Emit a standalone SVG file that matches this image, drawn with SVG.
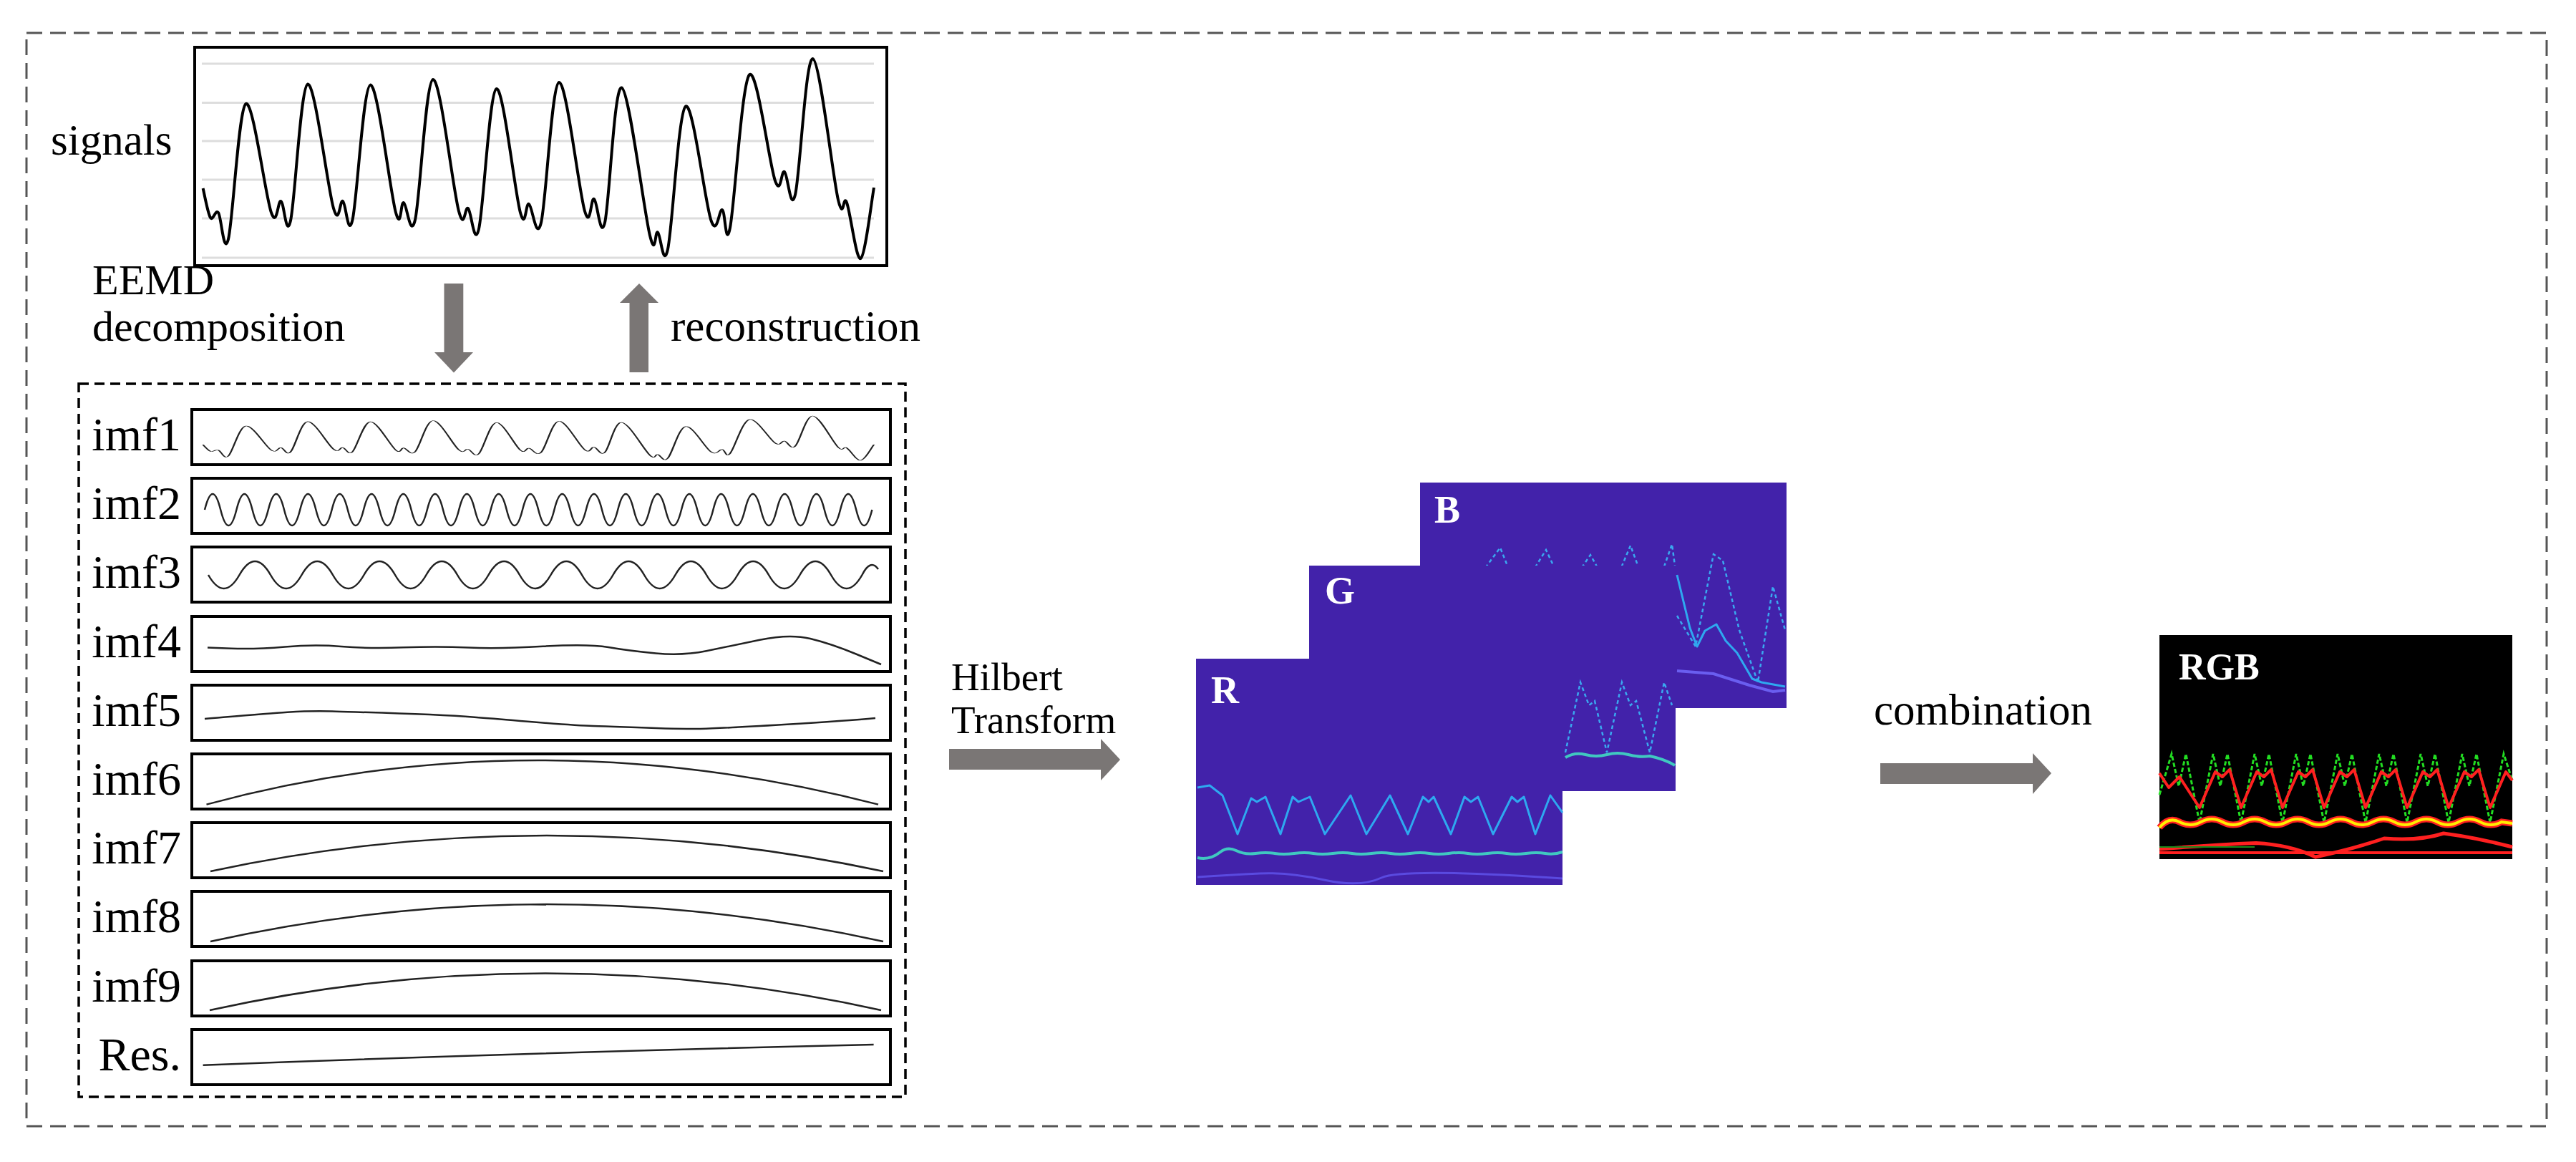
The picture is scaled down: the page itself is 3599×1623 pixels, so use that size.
<svg xmlns="http://www.w3.org/2000/svg" xmlns:xlink="http://www.w3.org/1999/xlink" width="3599" height="1623" viewBox="0 0 3599 1623">
<style>
.lbl{font-family:"Liberation Serif","DejaVu Serif",serif;fill:#000}
.wl{font-family:"Liberation Serif","DejaVu Serif",serif;fill:#fff;font-weight:bold}
.box{fill:#fff;stroke:#000;stroke-width:4}
.w{fill:none;stroke:#222;stroke-width:2.5;stroke-linejoin:round}
.grid{stroke:#ddd;stroke-width:3}
.arr{fill:#7a7675}
.panel{fill:#4222aa}
.cy{fill:none;stroke:#2ea8f0;stroke-width:3;stroke-linejoin:round}
.cyd{fill:none;stroke:#3aa8f0;stroke-width:2.5;stroke-dasharray:5 4}
.tl{fill:none;stroke:#40c8c0;stroke-width:4}
</style>
<defs>
<path id="sig" d="M283.6 263 C285.3 269.8 290.4 298.3 294 304 C297.6 309.7 300.8 292 305 297 C309.2 302 312.6 359.3 319 334 C325.4 308.7 333.5 151.2 343.5 145 C353.5 138.8 370.8 274.3 379 297 C387.2 319.7 388 279.2 392.5 281 C397 282.8 399.75 335.25 406 308 C412.25 280.75 420 120.3 430 117.5 C440 114.7 457.8 263.75 466 291 C474.2 318.25 474.6 278.3 479 281 C483.4 283.7 486.1 334.1 492.5 307 C498.9 279.9 507.4 120.3 517.5 118.6 C527.6 116.9 545.25 269.6 553 297 C560.75 324.4 559.5 281.3 564 283 C568.5 284.7 573.2 335.7 580 307 C586.8 278.3 594.8 113 605 111 C615.2 109 632.8 265 641 295 C649.2 325 649.3 286.9 654 291 C658.7 295.1 662.4 347.4 669 319.6 C675.6 291.8 683.8 127.8 693.5 124 C703.2 120.2 719.4 270.2 727 297 C734.6 323.8 734.2 282.7 739 285 C743.8 287.3 749 339.3 756 311 C763 282.7 770.8 117.7 781 115 C791.2 112.3 808.8 267.8 817 295 C825.2 322.2 825.3 275.3 830 278 C834.7 280.7 838.6 336.9 845 311 C851.4 285.1 858 119.5 868.5 122.5 C879 125.5 899.6 295.3 908 329 C916.4 362.7 914.8 321.3 919 324.5 C923.2 327.7 926.5 377.3 933 348 C939.5 318.7 947.9 155.2 958 148.5 C968.1 141.8 985 283.9 993.5 308 C1002 332.1 1004.6 291.3 1009 293 C1013.4 294.7 1013.7 349.4 1020 318 C1026.3 286.6 1036.5 115.4 1047 104.5 C1057.5 93.6 1074.8 230 1083 252.6 C1091.2 275.2 1091.3 236.8 1096 240 C1100.7 243.2 1104.4 298.3 1111 272 C1117.6 245.7 1125.5 80.8 1135.5 82 C1145.5 83.2 1163.1 245.5 1171 279 C1178.9 312.5 1177.75 269.3 1183 283 C1188.25 296.7 1196.2 364.5 1202.5 361 C1208.8 357.5 1217.9 278.5 1221 262"/>
</defs>
<rect x="37" y="46" width="3521" height="1527" fill="none" stroke="#555" stroke-width="3" stroke-dasharray="22 11"/>

<g id="signals">
<rect class="box" x="272" y="66" width="967" height="305"/>
<g class="grid">
<line x1="282" y1="89" x2="1221" y2="89"/><line x1="282" y1="143.5" x2="1221" y2="143.5"/><line x1="282" y1="197" x2="1221" y2="197"/><line x1="282" y1="251" x2="1221" y2="251"/><line x1="282" y1="305" x2="1221" y2="305"/><line x1="282" y1="360" x2="1221" y2="360"/>
</g>
<use xlink:href="#sig" fill="none" stroke="#000" stroke-width="4" stroke-linejoin="round"/>
<text class="lbl" x="71" y="216" font-size="61">signals</text>
</g>

<g id="labels">
<text class="lbl" x="129" y="411" font-size="60">EEMD</text>
<text class="lbl" x="129" y="476" font-size="60">decomposition</text>
<text class="lbl" x="937" y="476" font-size="61">reconstruction</text>
</g>

<g id="connectors">
<polygon class="arr" points="620.5,396 647.3,396 647.3,492 661,492 634,520.5 607,492 620.5,492"/>
<polygon class="arr" points="879.5,520 906,520 906,423 920,423 893,396 866,423 879.5,423"/>
<polygon class="arr" points="1326,1046 1538,1046 1538,1032 1565,1061 1538,1090 1538,1075 1326,1075"/>
<polygon class="arr" points="2627,1066 2840,1066 2840,1052 2866,1080 2840,1109 2840,1095 2627,1095"/>
</g>
<text class="lbl" x="1329" y="964" font-size="55">Hilbert</text>
<text class="lbl" x="1329" y="1024" font-size="55">Transform</text>
<text class="lbl" x="2618" y="1012" font-size="61">combination</text>

<g id="imfs">
<rect x="110" y="536" width="1155" height="996" fill="none" stroke="#000" stroke-width="3.5" stroke-dasharray="14 8"/>
<g class="lbl" font-size="66" text-anchor="end">
<text x="253" y="629">imf1</text><text x="253" y="725">imf2</text><text x="253" y="821">imf3</text><text x="253" y="918">imf4</text><text x="253" y="1014">imf5</text><text x="253" y="1110">imf6</text><text x="253" y="1206">imf7</text><text x="253" y="1302">imf8</text><text x="253" y="1399">imf9</text><text x="253" y="1495">Res.</text>
</g>
<rect class="box" x="268" y="572" width="976" height="77"/>
<rect class="box" x="268" y="668" width="976" height="77"/>
<rect class="box" x="268" y="764" width="976" height="77"/>
<rect class="box" x="268" y="861" width="976" height="77"/>
<rect class="box" x="268" y="957" width="976" height="77"/>
<rect class="box" x="268" y="1053" width="976" height="77"/>
<rect class="box" x="268" y="1149" width="976" height="77"/>
<rect class="box" x="268" y="1245" width="976" height="77"/>
<rect class="box" x="268" y="1342" width="976" height="77"/>
<rect class="box" x="268" y="1438" width="976" height="77"/>
<use xlink:href="#sig" vector-effect="non-scaling-stroke" transform="translate(0,581) scale(1,0.222) translate(0,-82)" style="fill:none;stroke:#222;stroke-width:2.5"/>
<path class="w" d="M286 712 Q297.1 668 308.2 712 T330.4 712 T352.6 712 T374.8 712 T397 712 T419.2 712 T441.4 712 T463.6 712 T485.8 712 T508 712 T530.2 712 T552.4 712 T574.6 712 T596.8 712 T619 712 T641.2 712 T663.4 712 T685.6 712 T707.8 712 T730 712 T752.2 712 T774.4 712 T796.6 712 T818.8 712 T841 712 T863.2 712 T885.4 712 T907.6 712 T929.8 712 T952 712 T974.2 712 T996.4 712 T1018.6 712 T1040.8 712 T1063 712 T1085.2 712 T1107.4 712 T1129.6 712 T1151.8 712 T1174 712 T1196.2 712 T1218.4 712"/>
<path class="w" d="M291 803 Q312.75 841 334.5 803 T378 803 T421.5 803 T465 803 T508.5 803 T552 803 T595.5 803 T639 803 T682.5 803 T726 803 T769.5 803 T813 803 T856.5 803 T900 803 T943.5 803 T987 803 T1030.5 803 T1074 803 T1117.5 803 T1161 803 T1204.5 803 Q1216 780 1227 795"/>
<path class="w" d="M290 904.5 L323.3 905.8 Q356.5 907 398 903.5 Q439.5 900 476.8 903 Q514 906 563.8 904.3 Q613.5 902.5 655 904.6 Q696.5 906.6 758.8 902.8 Q821 899 850 904 Q879 909 916.3 912.5 Q953.5 916 986.8 909.3 Q1020 902.5 1061.5 893.8 Q1103 885 1132 892 Q1161 899 1196 913.5 L1231 928"/>
<path class="w" d="M286 1004 C380 996 420 992 464 993.5 S600 997 663 1001.7 S790 1013 829 1014 S940 1019 978.5 1018 S1170 1008 1223 1003"/>
<path class="w" d="M288.5 1123.6 Q746 1000.4 1227 1123.6"/>
<path class="w" d="M294 1217 Q764 1117 1234 1217"/>
<path class="w" d="M294 1315 Q764 1211 1234 1315"/>
<path class="w" d="M293 1411 Q762 1308 1231 1411"/>
<path class="w" d="M283.6 1487.7 Q750 1470 1220.6 1459"/>
</g>

<g id="panelB">
<rect class="panel" x="1984" y="674" width="512" height="315"/>
<text class="wl" x="2004" y="730" font-size="54">B</text>
<path class="cyd" d="M2070 800 L2096 765 L2110 800 M2140 800 L2160 768 L2175 800 M2205 800 L2222 775 L2236 800 M2262 800 L2278 762 L2292 800 M2322 800 L2336 760 L2340 790"/>
<path class="cyd" d="M2343 860 L2369 903 L2394 774 L2407 783 L2430 880 L2456 953 L2477 819 L2494 880"/>
<polyline class="cy" points="2343,803 2361,877 2371,903 2382,881 2398,872 2411,895 2427,912 2448,948 2461,953 2494,959"/>
<polyline fill="none" stroke="#6a5ef0" stroke-width="4" points="2343,937 2394,941 2444,957 2477,966 2494,964"/>
</g>

<g id="panelG">
<rect class="panel" x="1829" y="790" width="512" height="315"/>
<text class="wl" x="1851" y="843" font-size="54">G</text>
<path class="cyd" d="M2187 1051 L2208 953 L2220 985 L2228 979 L2245 1051 L2266 953 L2278 985 L2286 979 L2305 1051 L2325 953 L2336 985"/>
<path class="tl" d="M2187 1058 Q2200 1050 2215 1054 T2245 1054 T2275 1054 T2305 1056 Q2325 1060 2340 1069"/>
</g>

<g id="panelR">
<rect class="panel" x="1671" y="920" width="512" height="316"/>
<text class="wl" x="1692" y="982" font-size="54">R</text>
<polyline class="cy" points="1673,1100 1690,1097 1708,1111 1729,1165 1748,1115 1756,1120 1768,1113 1789,1165 1806,1113 1814,1120 1830,1113 1851,1165 1887,1111 1909,1165 1942,1111 1967,1165 1988,1113 1996,1120 2003,1113 2027,1165 2046,1113 2055,1120 2065,1113 2086,1165 2112,1113 2120,1120 2129,1113 2145,1165 2166,1111 2183,1135"/>
<path class="tl" d="M1673 1198 Q1690 1202 1705 1190 Q1715 1182 1727 1188 T1754 1192 T1781 1192 T1808 1192 T1835 1192 T1862 1192 T1889 1192 T1916 1192 T1943 1192 T1970 1192 T1997 1192 T2024 1192 T2051 1192 T2078 1192 T2105 1192 T2132 1192 T2159 1192 T2183 1190"/>
<path fill="none" stroke="#5a4ae0" stroke-width="3" d="M1673 1225 Q1720 1222 1760 1220 T1850 1229 T1930 1226 T2183 1227"/>
</g>

<g id="panelRGB">
<rect x="3017" y="887" width="493" height="313" fill="#000"/>
<text class="wl" x="3044" y="949" font-size="52">RGB</text>
<polyline fill="none" stroke="#22dd22" stroke-width="3" stroke-dasharray="6 3" points="3017,1110 3034,1053 3044,1098 3054,1053 3073,1149 3092,1053 3102,1098 3112,1053 3131,1149 3150,1053 3160,1098 3170,1053 3189,1149 3208,1053 3218,1098 3228,1053 3247,1149 3266,1053 3276,1098 3286,1053 3305,1149 3324,1053 3334,1098 3344,1053 3363,1149 3382,1053 3392,1098 3402,1053 3421,1149 3440,1053 3450,1098 3460,1053 3479,1149 3498,1053 3510,1090"/>
<polyline fill="none" stroke="#ff2020" stroke-width="4" stroke-linejoin="round" points="3017,1080 3030,1100 3045,1085 3073,1128 3095,1078 3105,1085 3115,1075 3131,1128 3153,1078 3163,1085 3173,1075 3189,1128 3211,1078 3221,1085 3231,1075 3247,1128 3269,1078 3279,1085 3289,1075 3305,1128 3327,1078 3337,1085 3347,1075 3363,1128 3385,1078 3395,1085 3405,1075 3421,1128 3443,1078 3453,1085 3463,1075 3479,1128 3501,1078 3510,1090"/>
<path fill="none" stroke="#ff2020" stroke-width="9" d="M3017 1156 Q3030 1140 3045 1148 T3075 1148 T3105 1148 T3135 1148 T3165 1148 T3195 1148 T3225 1148 T3255 1148 T3285 1148 T3315 1148 T3345 1148 T3375 1148 T3405 1148 T3435 1148 T3465 1148 T3495 1148 L3510 1150"/>
<path fill="none" stroke="#ffee00" stroke-width="4" d="M3017 1156 Q3030 1140 3045 1148 T3075 1148 T3105 1148 T3135 1148 T3165 1148 T3195 1148 T3225 1148 T3255 1148 T3285 1148 T3315 1148 T3345 1148 T3375 1148 T3405 1148 T3435 1148 T3465 1148 T3495 1148 L3510 1150"/>
<path fill="none" stroke="#ff2020" stroke-width="5" d="M3017 1186 Q3090 1180 3152 1177.5 Q3200 1180 3235 1197 Q3290 1185 3331 1171 Q3380 1175 3414 1164 Q3460 1170 3510 1183"/>
<line x1="3017" y1="1191" x2="3510" y2="1191" stroke="#ff2020" stroke-width="4"/>
<line x1="3017" y1="1183" x2="3150" y2="1183" stroke="#1a8a1a" stroke-width="2"/>
</g>
</svg>
